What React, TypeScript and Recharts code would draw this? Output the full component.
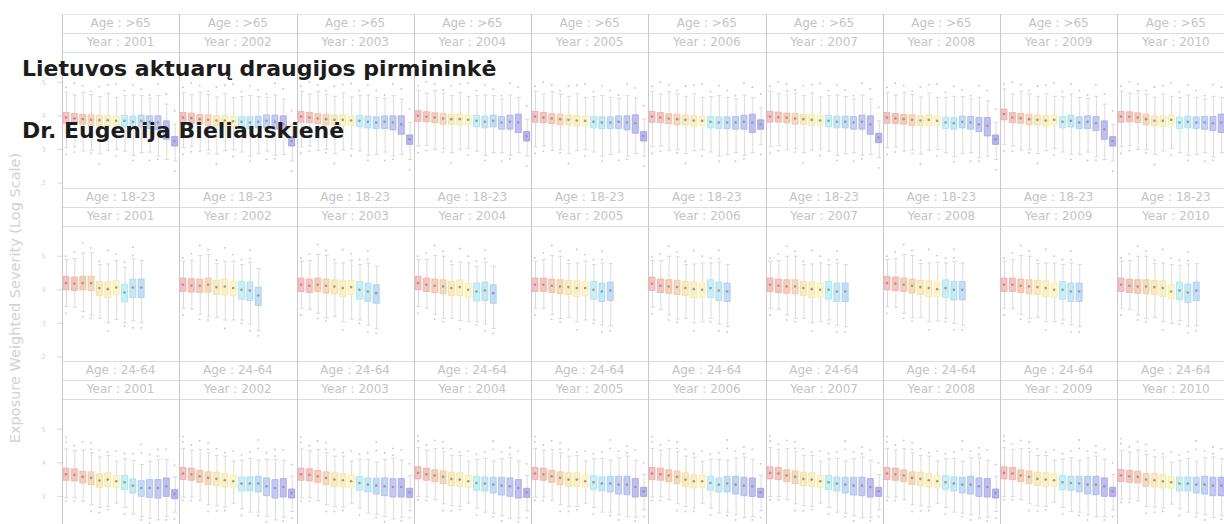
import React from 'react';
import { ComposedChart, Bar, XAxis, YAxis, Cell } from 'recharts';

// ---------- data ----------
const years = ['2001', '2002', '2003', '2004', '2005', '2006', '2007', '2008', '2009', '2010'];
const ageGroups = ['>65', '18-23', '24-64'];
const groups = ['G01', 'G02', 'G03', 'G04', 'G05', 'G06', 'G07', 'G08', 'G09', 'G10', 'G11', 'G12', 'G13', 'G14'];
const yTicksFull = [2, 3, 4, 5];
const yTicksLast = [3, 4, 5];
const yDomain: [number, number] = [1.85, 5.9];

// medians (log scale) by year, age >65
const medOver65 = [
  [3.95, 3.92, 3.9, 3.88, 3.87, 3.87, 3.85, 3.85, 3.82, 3.85, 3.82, 3.8, 3.6, 3.25],
  [3.95, 3.93, 3.9, 3.88, 3.86, 3.86, 3.84, 3.82, 3.8, 3.82, 3.85, 3.82, 3.75, 3.25],
  [3.98, 3.95, 3.92, 3.9, 3.88, 3.88, 3.86, 3.85, 3.82, 3.8, 3.82, 3.8, 3.75, 3.3],
  [4.0, 3.97, 3.95, 3.92, 3.9, 3.9, 3.88, 3.85, 3.82, 3.85, 3.8, 3.82, 3.8, 3.4],
  [3.98, 3.95, 3.92, 3.9, 3.88, 3.86, 3.85, 3.82, 3.8, 3.8, 3.82, 3.8, 3.78, 3.4],
  [3.98, 3.95, 3.92, 3.9, 3.88, 3.86, 3.85, 3.82, 3.8, 3.8, 3.8, 3.82, 3.8, 3.75],
  [3.98, 3.96, 3.94, 3.92, 3.9, 3.88, 3.86, 3.85, 3.82, 3.82, 3.8, 3.82, 3.75, 3.35],
  [3.95, 3.92, 3.9, 3.88, 3.86, 3.88, 3.85, 3.8, 3.78, 3.82, 3.8, 3.75, 3.7, 3.3],
  [4.05, 3.95, 3.93, 3.9, 3.88, 3.86, 3.88, 3.82, 3.85, 3.8, 3.82, 3.78, 3.6, 3.25],
  [3.98, 3.97, 3.95, 3.9, 3.85, 3.85, 3.88, 3.8, 3.82, 3.8, 3.8, 3.78, 3.8, 3.78],
];
const boxLoOver65 = [0.17, 0.15, 0.15, 0.17, 0.15, 0.17, 0.15, 0.18, 0.18, 0.18, 0.2, 0.22, 0.3, 0.15];
const boxHiOver65 = [0.15, 0.15, 0.14, 0.15, 0.14, 0.15, 0.14, 0.16, 0.17, 0.17, 0.18, 0.2, 0.25, 0.13];
const whLoOver65 = [0.9, 0.85, 0.95, 0.9, 1.0, 0.9, 0.85, 0.9, 1.0, 0.95, 0.9, 1.0, 0.9, 0.6];
const whHiOver65 = [0.75, 0.7, 0.8, 0.75, 0.7, 0.8, 0.7, 0.75, 0.8, 0.75, 0.7, 0.8, 0.75, 0.5];
const outHiOver65 = [0.15, null, 0.2, 0.1, null, 0.25, null, 0.15, null, 0.2, 0.1, null, 0.3, 0.4];
const outLoOver65 = [0.2, 0.15, null, 0.1, 0.3, null, 0.2, null, 0.15, null, 0.25, 0.1, null, 0.3];
const outFarOver65 = [null, 0.35, null, null, 0.3, null, 0.4, null, 0.3, null, null, 0.35, null, null];

// age 18-23 (10 groups)
const med1823 = [
  [4.2, 4.18, 4.2, 4.2, 4.05, 4.02, 4.07, 3.92, 4.07, 4.07],
  [4.15, 4.13, 4.12, 4.15, 4.08, 4.1, 4.05, 4.0, 3.98, 3.83],
  [4.15, 4.12, 4.15, 4.12, 4.1, 4.05, 4.08, 4.0, 3.95, 3.9],
  [4.2, 4.15, 4.12, 4.1, 4.05, 4.08, 4.0, 3.95, 3.98, 3.9],
  [4.15, 4.15, 4.12, 4.1, 4.08, 4.05, 4.05, 4.0, 3.95, 3.98],
  [4.18, 4.12, 4.1, 4.08, 4.05, 4.02, 4.0, 4.05, 3.98, 3.95],
  [4.15, 4.12, 4.1, 4.1, 4.05, 4.02, 4.0, 4.0, 3.95, 3.95],
  [4.2, 4.18, 4.15, 4.12, 4.08, 4.05, 4.02, 4.05, 4.0, 4.0],
  [4.15, 4.15, 4.12, 4.1, 4.08, 4.05, 4.0, 4.0, 3.95, 3.95],
  [4.15, 4.12, 4.1, 4.1, 4.08, 4.05, 3.95, 3.98, 3.92, 3.98],
];
const boxLo1823 = [0.2, 0.2, 0.2, 0.22, 0.22, 0.25, 0.22, 0.28, 0.3, 0.3];
const boxHi1823 = [0.2, 0.2, 0.2, 0.2, 0.2, 0.22, 0.2, 0.25, 0.25, 0.25];
const whLo1823 = [0.7, 0.7, 0.85, 0.95, 0.9, 1.0, 0.95, 0.9, 1.0, 1.05];
const whHi1823 = [0.7, 0.75, 0.9, 0.9, 0.7, 0.75, 0.8, 0.75, 0.85, 0.8];
const outHi1823 = [0.1, 0.2, null, 0.15, 0.1, null, 0.2, 0.15, 0.1, null];
const outLo1823 = [0.2, null, 0.15, 0.1, null, 0.25, null, 0.1, 0.2, 0.15];
const outFar1823 = [null, null, 0.3, null, null, 0.4, null, null, 0.35, null];

// age 24-64
const med2464 = [
  [3.66, 3.64, 3.58, 3.55, 3.47, 3.5, 3.45, 3.42, 3.32, 3.25, 3.25, 3.25, 3.3, 3.08],
  [3.68, 3.66, 3.6, 3.55, 3.52, 3.48, 3.45, 3.38, 3.38, 3.38, 3.3, 3.25, 3.28, 3.1],
  [3.66, 3.64, 3.6, 3.55, 3.5, 3.48, 3.45, 3.4, 3.35, 3.32, 3.3, 3.28, 3.28, 3.12],
  [3.7, 3.66, 3.62, 3.58, 3.52, 3.5, 3.45, 3.4, 3.38, 3.35, 3.32, 3.3, 3.25, 3.12],
  [3.68, 3.66, 3.6, 3.55, 3.5, 3.5, 3.45, 3.42, 3.38, 3.38, 3.35, 3.35, 3.28, 3.15],
  [3.68, 3.66, 3.62, 3.58, 3.5, 3.45, 3.45, 3.4, 3.35, 3.38, 3.35, 3.32, 3.3, 3.12],
  [3.7, 3.68, 3.62, 3.58, 3.52, 3.5, 3.45, 3.42, 3.38, 3.35, 3.32, 3.32, 3.28, 3.15],
  [3.68, 3.66, 3.62, 3.55, 3.52, 3.48, 3.45, 3.42, 3.38, 3.35, 3.35, 3.3, 3.28, 3.1],
  [3.7, 3.68, 3.62, 3.58, 3.52, 3.5, 3.48, 3.42, 3.4, 3.38, 3.35, 3.35, 3.3, 3.15],
  [3.62, 3.6, 3.58, 3.5, 3.48, 3.45, 3.42, 3.38, 3.38, 3.35, 3.35, 3.32, 3.32, 3.3],
];
const boxLo2464 = [0.18, 0.18, 0.18, 0.2, 0.2, 0.2, 0.18, 0.22, 0.22, 0.25, 0.28, 0.3, 0.3, 0.15];
const boxHi2464 = [0.18, 0.18, 0.17, 0.18, 0.2, 0.2, 0.18, 0.2, 0.2, 0.22, 0.25, 0.25, 0.25, 0.12];
const whLo2464 = [0.7, 0.68, 0.72, 0.8, 0.8, 0.8, 0.65, 0.75, 0.85, 0.85, 0.9, 0.95, 0.9, 0.55];
const whHi2464 = [0.75, 0.72, 0.8, 0.75, 0.7, 0.72, 0.6, 0.7, 0.75, 0.7, 0.8, 0.85, 0.8, 0.5];
const outHi2464 = [0.2, 0.15, 0.25, 0.1, 0.2, 0.1, null, 0.15, 0.2, 0.35, 0.2, 0.1, 0.3, null];
const outLo2464 = [0.1, 0.1, null, 0.2, 0.15, 0.1, null, 0.2, null, 0.1, 0.15, null, 0.1, 0.2];
const outFar2464 = [0.35, null, null, 0.3, null, null, 0.3, null, null, 0.6, null, 0.3, null, 0.35];

const boxFills = ['#f6c2c2', '#f6c4bc', '#f7ccb8', '#f8d8b8', '#faeabc', '#fbf0bf', '#fcf6c6', '#c6f0f6', '#c4e8f6', '#c4dcf6', '#c4d2f4', '#c4c8f2', '#c0bef0', '#b6b4ee'];
const boxStrokes = ['#eeaaaa', '#eeaea4', '#efb8a0', '#f0c8a0', '#f2dca0', '#f3e4a4', '#f4eca8', '#a8e4ee', '#a6daee', '#a6cbee', '#a6bfec', '#a6b4ea', '#a4a6e8', '#9a9ae4'];

const rows = [
  { age: ageGroups[0], med: medOver65, boxLo: boxLoOver65, boxHi: boxHiOver65, whLo: whLoOver65, whHi: whHiOver65, outHi: outHiOver65, outLo: outLoOver65, outFar: outFarOver65, ticks: yTicksFull },
  { age: ageGroups[1], med: med1823, boxLo: boxLo1823, boxHi: boxHi1823, whLo: whLo1823, whHi: whHi1823, outHi: outHi1823, outLo: outLo1823, outFar: outFar1823, ticks: yTicksFull },
  { age: ageGroups[2], med: med2464, boxLo: boxLo2464, boxHi: boxHi2464, whLo: whLo2464, whHi: whHi2464, outHi: outHi2464, outLo: outLo2464, outFar: outFar2464, ticks: yTicksLast },
];

// ---------- layout ----------
const LEFT = 62;
const COL_W = 117.25;
const ROW_TOP = 14;
const ROW_H = 173.6;
const STRIP_H = 19;
const PLOT_H = 136;
const AXIS_W = 32;
const LINE = '#c9c9c9';
const TEXT = '#c4c4c4';
const FONT = '"DejaVu Sans", Verdana, sans-serif';

const Whisker = (p: any) => {
  const { x, y, width, height } = p;
  if (x == null || y == null || !isFinite(y) || !isFinite(height)) return null;
  const cx = x + width / 2;
  const top = Math.min(y, y + height);
  const bot = Math.max(y, y + height);
  return (
    <g stroke="#d2d2d2" strokeWidth={0.8}>
      <line x1={cx} x2={cx} y1={top} y2={bot} />
      <line x1={cx - 2.2} x2={cx + 2.2} y1={top} y2={top} />
      <line x1={cx - 2.2} x2={cx + 2.2} y1={bot} y2={bot} />
    </g>
  );
};

const makeDot = (fill: string, r: number) => (p: any) => {
  const { x, y, width, height } = p;
  if (x == null || y == null || !isFinite(y)) return null;
  return <circle cx={x + width / 2} cy={y + height / 2} r={r} fill={fill} />;
};
const MedDot = makeDot('#9a9a9a', 1.3);
const OutDot = makeDot('#c4c4c4', 0.9);

function Panel({ rowIdx, yearIdx }: { rowIdx: number; yearIdx: number }) {
  const row = rows[rowIdx];
  const meds = row.med[yearIdx];
  const data = groups.map((g, i) => {
    const m = meds[i];
    if (m == null) return { g };
    const hi = m + row.whHi[i];
    const lo = m - row.whLo[i];
    const oh = row.outHi[i];
    const ol = row.outLo[i];
    const of = row.outFar[i];
    return {
      g,
      box: [m - row.boxLo[i], m + row.boxHi[i]],
      wh: [lo, hi],
      md: [m - 0.01, m + 0.01],
      o1: oh == null ? undefined : [hi + oh - 0.01, hi + oh + 0.01],
      o2: ol == null ? undefined : [lo - ol - 0.01, lo - ol + 0.01],
      o3: of == null ? undefined : [hi + of - 0.01, hi + of + 0.01],
    };
  });
  const first = yearIdx === 0;
  const w = Math.round(COL_W) + (first ? AXIS_W : 0);
  const left = LEFT + yearIdx * COL_W - (first ? AXIS_W : 0);
  const top = ROW_TOP + rowIdx * ROW_H + 2 * STRIP_H;
  return (
    <div style={{ position: 'absolute', left, top }}>
      <ComposedChart width={w} height={PLOT_H} data={data} margin={{ top: 0, right: 0, bottom: 0, left: 0 }}>
        <XAxis xAxisId="wh" dataKey="g" hide />
        <XAxis xAxisId="box" dataKey="g" hide />
        <XAxis xAxisId="md" dataKey="g" hide />
        <XAxis xAxisId="o1" dataKey="g" hide />
        <XAxis xAxisId="o2" dataKey="g" hide />
        <XAxis xAxisId="o3" dataKey="g" hide />
        <YAxis
          type="number"
          domain={yDomain}
          ticks={row.ticks}
          allowDataOverflow
          hide={!first}
          width={AXIS_W}
          axisLine={false}
          tickSize={5}
          tickMargin={11}
          tickLine={{ stroke: '#d6d6d6' }}
          tick={{ fontSize: 7, fill: '#d6d6d6', fontFamily: FONT }}
        />
        <Bar xAxisId="wh" dataKey="wh" barSize={5} shape={Whisker} isAnimationActive={false} />
        <Bar xAxisId="box" dataKey="box" barSize={6} strokeWidth={0.8} isAnimationActive={false}>
          {data.map((_, i) => (
            <Cell key={i} fill={boxFills[i]} stroke={boxStrokes[i]} />
          ))}
        </Bar>
        <Bar xAxisId="md" dataKey="md" barSize={4} shape={MedDot} isAnimationActive={false} />
        <Bar xAxisId="o1" dataKey="o1" barSize={4} shape={OutDot} isAnimationActive={false} />
        <Bar xAxisId="o2" dataKey="o2" barSize={4} shape={OutDot} isAnimationActive={false} />
        <Bar xAxisId="o3" dataKey="o3" barSize={4} shape={OutDot} isAnimationActive={false} />
      </ComposedChart>
    </div>
  );
}

function Strips({ rowIdx }: { rowIdx: number }) {
  const top = ROW_TOP + rowIdx * ROW_H;
  const items: React.ReactNode[] = [];
  const stripStyle = { position: 'absolute' as const, width: COL_W, height: STRIP_H, lineHeight: STRIP_H + 'px', textAlign: 'center' as const, fontSize: 12, color: TEXT, whiteSpace: 'pre' as const };
  years.forEach((yr, c) => {
    const left = LEFT + c * COL_W;
    items.push(
      <div key={'a' + c} style={{ ...stripStyle, left, top }}>
        {'Age : ' + rows[rowIdx].age}
      </div>
    );
    items.push(
      <div key={'y' + c} style={{ ...stripStyle, left, top: top + STRIP_H }}>
        {'Year : ' + yr}
      </div>
    );
  });
  [0, STRIP_H, 2 * STRIP_H].forEach((dy, k) => {
    items.push(
      <div key={'h' + k} style={{ position: 'absolute', left: LEFT, top: top + dy, width: 1224 - LEFT, height: 1, background: k === 0 && rowIdx === 0 ? '#e6e6e6' : '#dcdcdc' }} />
    );
  });
  return <>{items}</>;
}

export default function App() {
  return (
    <div style={{ position: 'absolute', left: 0, top: 0, width: 1224, height: 524, overflow: 'hidden', background: '#fff', fontFamily: FONT }}>
      {rows.map((_, r) => (
        <Strips key={'s' + r} rowIdx={r} />
      ))}
      {years.map((_, c) => (
        <div key={'v' + c} style={{ position: 'absolute', left: LEFT + c * COL_W, top: ROW_TOP, width: 1, height: 524 - ROW_TOP, background: LINE }} />
      ))}
      {rows.map((_, r) => years.map((__, c) => <Panel key={r + '-' + c} rowIdx={r} yearIdx={c} />))}
      <div style={{ position: 'absolute', left: 15 - 200, top: 298 - 10, width: 400, height: 20, lineHeight: '20px', textAlign: 'center', fontSize: 14.5, color: '#d2d2d2', transform: 'rotate(-90deg)', whiteSpace: 'nowrap' }}>
        Exposure Weighted Severity (Log Scale)
      </div>
      <div style={{ position: 'absolute', left: 22, top: 58.4, fontSize: 22, lineHeight: '22px', fontWeight: 'bold', color: '#1c1c1c', whiteSpace: 'nowrap' }}>
        Lietuvos aktuarų draugijos pirmininkė
      </div>
      <div style={{ position: 'absolute', left: 22, top: 120.4, fontSize: 22, lineHeight: '22px', fontWeight: 'bold', color: '#1c1c1c', whiteSpace: 'nowrap' }}>
        Dr. Eugenija Bieliauskienė
      </div>
    </div>
  );
}
